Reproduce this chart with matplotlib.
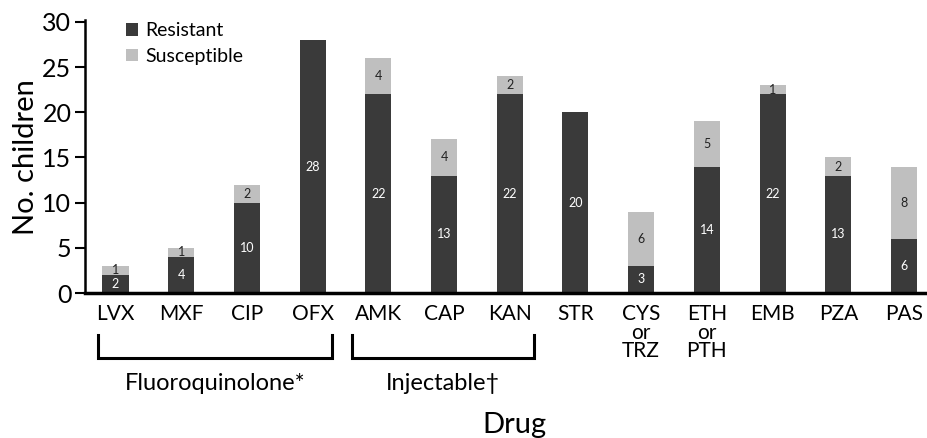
import matplotlib.pyplot as plt
import matplotlib.transforms as mtransforms
import numpy as np

drugs = ["LVX", "MXF", "CIP", "OFX", "AMK", "CAP", "KAN", "STR",
         "CYS\nor\nTRZ", "ETH\nor\nPTH", "EMB", "PZA", "PAS"]
resistant = [2, 4, 10, 28, 22, 13, 22, 20, 3, 14, 22, 13, 6]
susceptible = [1, 1, 2, 0, 4, 4, 2, 0, 6, 5, 1, 2, 8]

# group name, first index, last index
groups = [("Fluoroquinolone*", 0, 3), ("Injectable\u2020", 4, 6)]
bracket_pad = [(0.27, 0.30), (0.40, 0.37)]

plt.rcParams['font.family'] = ['Lato', 'DejaVu Sans']

dark = "#3a3a3a"
light = "#bfbfbf"

fig = plt.figure(figsize=(9.27, 4.38), dpi=100)
ax = fig.add_axes([0.092, 0.331, 0.908, 0.623])

x = np.arange(len(drugs))
w = 0.396
ax.bar(x, resistant, w, color=dark, label="Resistant")
ax.bar(x, susceptible, w, bottom=resistant, color=light, label="Susceptible")

for i in range(len(drugs)):
    r, s = resistant[i], susceptible[i]
    if r > 0:
        ax.text(x[i], r / 2, str(r), ha="center", va="center", color="white", fontsize=9)
    if s > 0:
        ax.text(x[i], r + s / 2, str(s), ha="center", va="center", color="#222222", fontsize=9)

ax.set_xlim(-0.46, 12.35)
ax.set_ylim(0, 30.2)
ax.set_yticks([0, 5, 10, 15, 20, 25, 30])
ax.tick_params(axis="y", labelsize=18, length=7, width=1.5, direction="out", pad=3)
ax.set_xticks(x)
ax.set_xticklabels(drugs, fontsize=15, linespacing=0.9, va="top")
ax.tick_params(axis="x", length=0, pad=8)
ax.set_ylabel("No. children", fontsize=21, labelpad=2)

for side in ["top", "right"]:
    ax.spines[side].set_visible(False)
ax.spines["bottom"].set_linewidth(2.5)
ax.spines["left"].set_linewidth(1.8)

ax.legend(loc="upper left", bbox_to_anchor=(0.035, 1.035), frameon=False,
          fontsize=14, handlelength=0.6, handleheight=0.6, handletextpad=0.35,
          labelspacing=0.45, borderaxespad=0.2)

trans = mtransforms.blended_transform_factory(ax.transData, ax.transAxes)
for (name, a, b), (pl, pr) in zip(groups, bracket_pad):
    xl, xr = a - pl, b + pr
    ax.plot([xl, xl, xr, xr], [-0.154, -0.238, -0.238, -0.154], color="black",
            lw=2.2, transform=trans, clip_on=False, solid_joinstyle="miter")
    ax.text((xl + xr) / 2, -0.33, name, transform=trans, ha="center", va="center",
            fontsize=17)

ax.text(0.51, -0.484, "Drug", transform=ax.transAxes, ha="center", va="center", fontsize=21)

fig.savefig("out.png", dpi=100)
